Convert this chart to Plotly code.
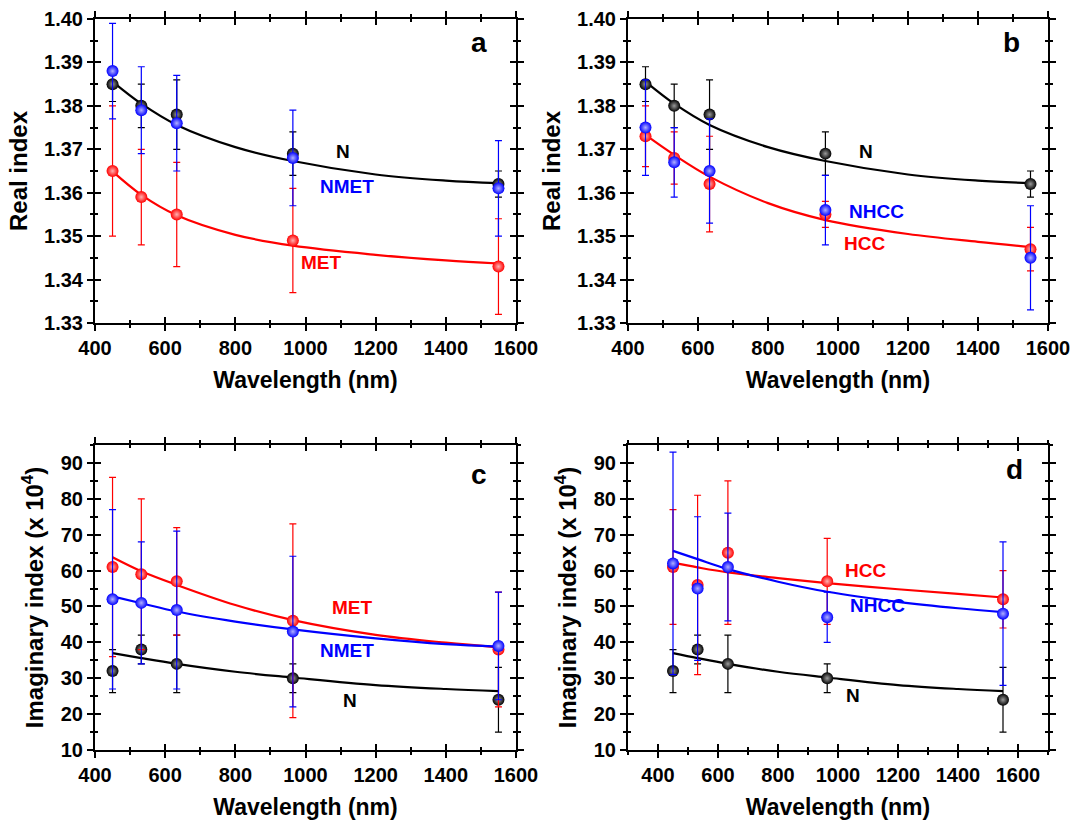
import plotly.graph_objects as go

# ---------------- data ----------------
wl = [450, 532, 633, 964, 1550]
fit_wl = [450, 532, 633, 800, 964, 1200, 1400, 1550]

# Real index (panels a, b)
n_N = [1.385, 1.380, 1.378, 1.369, 1.362]
n_N_err = [0.004, 0.005, 0.008, 0.005, 0.003]
n_NMET = [1.388, 1.379, 1.376, 1.368, 1.361]
n_NMET_err = [0.011, 0.010, 0.011, 0.011, 0.011]
n_MET = [1.365, 1.359, 1.355, 1.349, 1.343]
n_MET_err = [0.015, 0.011, 0.012, 0.012, 0.011]
n_NHCC = [1.375, 1.367, 1.365, 1.356, 1.345]
n_NHCC_err = [0.011, 0.008, 0.012, 0.008, 0.012]
n_HCC = [1.373, 1.368, 1.362, 1.355, 1.347]
n_HCC_err = [0.007, 0.006, 0.011, 0.003, 0.005]

fit_n_N = [1.3856, 1.3805, 1.3756, 1.3705, 1.3673, 1.3642, 1.3628, 1.3622]
fit_n_MET = [1.3649, 1.3595, 1.3548, 1.3503, 1.3478, 1.3457, 1.3444, 1.3437]
fit_n_HCC = [1.3733, 1.3687, 1.3637, 1.3576, 1.3537, 1.3505, 1.3487, 1.3475]

# Imaginary index x 10^4 (panels c, d)
k_N = [32, 38, 34, 30, 24]
k_N_err = [6, 4, 8, 4, 9]
k_NMET = [52, 51, 49, 43, 39]
k_NMET_err = [25, 17, 22, 21, 15]
k_MET = [61, 59, 57, 46, 38]
k_MET_err = [25, 21, 15, 27, 16]
k_NHCC = [62, 55, 61, 47, 48]
k_NHCC_err = [31, 20, 15, 7, 20]
k_HCC = [61, 56, 65, 57, 52]
k_HCC_err = [16, 25, 20, 12, 8]

fit_k_N = [37.0, 35.6, 34.0, 31.8, 30.2, 28.1, 27.0, 26.4]
fit_k_NMET = [52.8, 50.9, 48.6, 45.8, 43.6, 41.1, 39.5, 38.8]
fit_k_MET = [63.7, 59.8, 56.0, 50.4, 46.2, 42.1, 39.9, 38.6]
fit_k_NHCC = [65.5, 63.2, 60.4, 56.9, 54.1, 51.3, 49.5, 48.4]
fit_k_HCC = [62.2, 60.9, 59.5, 57.9, 56.5, 54.8, 53.5, 52.5]

# ---------------- style ----------------
FONT = "Liberation Sans"
BLACK, RED, BLUE = "#000000", "#ff0000", "#0000ff"
LIGHT = {BLACK: "#9a9a9a", RED: "#ffb0b0", BLUE: "#b0b0ff"}

W, H = 1084, 821
xL = [95 / W, 516 / W]
xR = [628 / W, 1048 / W]
yT = [1 - 323 / H, 1 - 19 / H]
yB = [1 - 750 / H, 1 - 445 / H]

fig = go.Figure()


def add_series(ax, ay, x, y, err, color, fx, fy):
    fig.add_trace(go.Scatter(
        x=fx, y=fy, mode="lines", line=dict(color=color, width=2.2, shape="spline"),
        xaxis=ax, yaxis=ay, showlegend=False, hoverinfo="skip"))
    fig.add_trace(go.Scatter(
        x=x, y=y, mode="markers",
        marker=dict(size=12, color=color, line=dict(width=0),
                    gradient=dict(type="radial", color=LIGHT[color])),
        error_y=dict(type="data", array=err, visible=True, color=color,
                     thickness=1.2, width=3.5),
        xaxis=ax, yaxis=ay, showlegend=False))


# panel a
add_series("x", "y", wl, n_N, n_N_err, BLACK, fit_wl, fit_n_N)
add_series("x", "y", wl, n_MET, n_MET_err, RED, fit_wl, fit_n_MET)
add_series("x", "y", wl, n_NMET, n_NMET_err, BLUE, [], [])
# panel b
add_series("x2", "y2", wl, n_N, n_N_err, BLACK, fit_wl, fit_n_N)
add_series("x2", "y2", wl, n_HCC, n_HCC_err, RED, fit_wl, fit_n_HCC)
add_series("x2", "y2", wl, n_NHCC, n_NHCC_err, BLUE, [], [])
# panel c
add_series("x3", "y3", wl, k_N, k_N_err, BLACK, fit_wl, fit_k_N)
add_series("x3", "y3", wl, k_MET, k_MET_err, RED, fit_wl, fit_k_MET)
add_series("x3", "y3", wl, k_NMET, k_NMET_err, BLUE, fit_wl, fit_k_NMET)
# panel d
add_series("x4", "y4", wl, k_N, k_N_err, BLACK, fit_wl, fit_k_N)
add_series("x4", "y4", wl, k_HCC, k_HCC_err, RED, fit_wl, fit_k_HCC)
add_series("x4", "y4", wl, k_NHCC, k_NHCC_err, BLUE, fit_wl, fit_k_NHCC)

# dummy traces for overlay (inside-tick) axes
for i in range(5, 9):
    fig.add_trace(go.Scatter(x=[None], y=[None], xaxis=f"x{i}", yaxis=f"y{i}",
                             showlegend=False, hoverinfo="skip"))

tickfont = dict(family=FONT, size=20, color="black", weight="bold")
titlefont = dict(family=FONT, size=23, color="black", weight="bold")


def xa(domain, anchor, rng):
    return dict(domain=domain, anchor=anchor, range=rng, dtick=200, tick0=400,
                automargin=False,
                ticks="outside", ticklen=6, tickwidth=2, tickcolor="black",
                minor=dict(ticks="outside", ticklen=3, tickwidth=2, dtick=100, tick0=400,
                           tickcolor="black"),
                showline=True, linewidth=2, linecolor="black", mirror="ticks",
                showgrid=False, zeroline=False, tickfont=tickfont,
                title=dict(text="Wavelength (nm)", font=titlefont, standoff=14))


def ya(domain, anchor, rng, dtick, minor, fmt, title):
    return dict(domain=domain, anchor=anchor, range=rng, dtick=dtick, tick0=0,
                automargin=False,
                ticks="outside", ticklen=6, tickwidth=2, tickcolor="black",
                minor=dict(ticks="outside", ticklen=3, tickwidth=2, dtick=minor,
                           tickcolor="black"),
                showline=True, linewidth=2, linecolor="black", mirror="ticks",
                showgrid=False, zeroline=False, tickfont=tickfont, tickformat=fmt,
                title=dict(text=title, font=dict(family=FONT, size=24, color="black",
                                                 weight="bold"), standoff=10))


def overlay_x(base, anchor, rng):
    return dict(overlaying=base, anchor=anchor, range=rng, dtick=200, tick0=400,
                automargin=False,
                ticks="inside", ticklen=6, tickwidth=2, tickcolor="black",
                minor=dict(ticks="inside", ticklen=3, tickwidth=2, dtick=100, tick0=400,
                           tickcolor="black"),
                mirror="ticks", showline=False, showticklabels=False,
                showgrid=False, zeroline=False)


def overlay_y(base, anchor, rng, dtick, minor):
    return dict(overlaying=base, anchor=anchor, range=rng, dtick=dtick, tick0=0,
                automargin=False,
                ticks="inside", ticklen=6, tickwidth=2, tickcolor="black",
                minor=dict(ticks="inside", ticklen=3, tickwidth=2, dtick=minor,
                           tickcolor="black"),
                mirror="ticks", showline=False, showticklabels=False,
                showgrid=False, zeroline=False)


RX = [400, 1600]
RXD = [300, 1700]
RN = [1.33, 1.40]
RK = [10, 95]
real_title = "Real index"
imag_title = "Imaginary index (x 10<sup>4</sup>)"

fig.update_layout(
    width=W, height=H, margin=dict(l=0, r=0, t=0, b=0, autoexpand=False),
    paper_bgcolor="white", plot_bgcolor="white", showlegend=False,
    xaxis=xa(xL, "y", RX), yaxis=ya(yT, "x", RN, 0.01, 0.005, ".2f", real_title),
    xaxis2=xa(xR, "y2", RX), yaxis2=ya(yT, "x2", RN, 0.01, 0.005, ".2f", real_title),
    xaxis3=xa(xL, "y3", RX), yaxis3=ya(yB, "x3", RK, 10, 5, "d", imag_title),
    xaxis4=xa(xR, "y4", RXD), yaxis4=ya(yB, "x4", RK, 10, 5, "d", imag_title),
    xaxis5=overlay_x("x", "y5", RX), yaxis5=overlay_y("y", "x5", RN, 0.01, 0.005),
    xaxis6=overlay_x("x2", "y6", RX), yaxis6=overlay_y("y2", "x6", RN, 0.01, 0.005),
    xaxis7=overlay_x("x3", "y7", RX), yaxis7=overlay_y("y3", "x7", RK, 10, 5),
    xaxis8=overlay_x("x4", "y8", RXD), yaxis8=overlay_y("y4", "x8", RK, 10, 5),
)


def label(ax, ay, x, y, text, color, size=19):
    fig.add_annotation(x=x, y=y, xref=ax, yref=ay, text=f"<b>{text}</b>",
                       showarrow=False, font=dict(family=FONT, size=size, color=color))


# panel a labels
label("x", "y", 1107, 1.3694, "N", BLACK)
label("x", "y", 1118, 1.3615, "NMET", BLUE)
label("x", "y", 1047, 1.3440, "MET", RED)
label("x", "y", 1495, 1.3945, "a", BLACK, 28)
# panel b labels
label("x2", "y2", 1080, 1.3694, "N", BLACK)
label("x2", "y2", 1111, 1.3556, "NHCC", BLUE)
label("x2", "y2", 1077, 1.3484, "HCC", RED)
label("x2", "y2", 1497, 1.3945, "b", BLACK, 28)
# panel c labels
label("x3", "y3", 1133, 49.6, "MET", RED)
label("x3", "y3", 1118, 37.6, "NMET", BLUE)
label("x3", "y3", 1127, 23.9, "N", BLACK)
label("x3", "y3", 1495, 86.7, "c", BLACK, 28)
# panel d labels
label("x4", "y4", 1093, 59.9, "HCC", RED)
label("x4", "y4", 1133, 50.4, "NHCC", BLUE)
label("x4", "y4", 1050, 25.3, "N", BLACK)
label("x4", "y4", 1587, 88.3, "d", BLACK, 28)

fig.write_html(
    "out.html",
    config={"displayModeBar": False},
    post_script="document.body.style.margin='0';document.body.style.overflow='hidden';",
)
